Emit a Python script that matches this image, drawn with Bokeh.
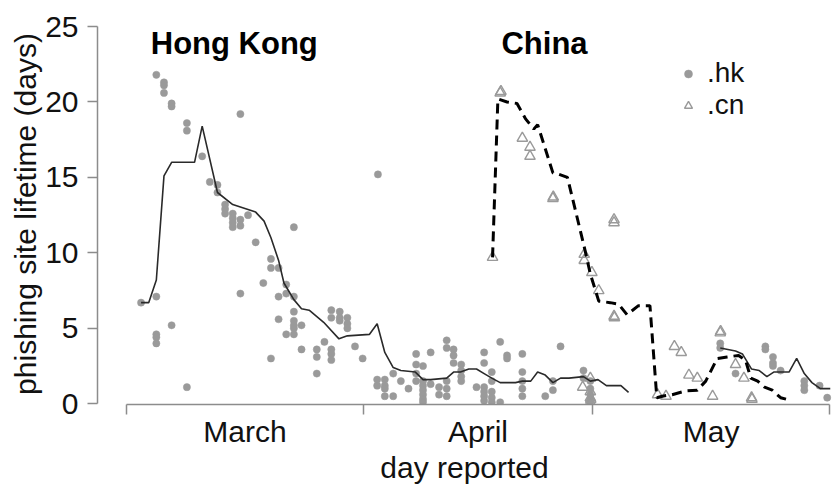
from bokeh.plotting import figure
from bokeh.models import Range1d, FixedTicker, Legend, LegendItem
from bokeh.core.properties import value
from bokeh.embed import file_html
from bokeh.resources import INLINE

FONT = "Liberation Sans"

# x = days since 1 March (1 March = 0, 1 April = 31, 1 May = 61, 1 June = 92)
month_names = ["March", "April", "May"]
month_mid = [15.5, 46.0, 76.5]
month_edges = [0, 31, 61, 92]
life_ticks = [0, 5, 10, 15, 20, 25]

hk_day = [3.9, 4.9, 4.9, 4.9, 5.9, 5.9, 7.9, 7.9, 14.9, 9.9, 10.9, 11.9, 11.9,
          12.9, 12.9, 12.9, 13.9, 13.9, 13.9, 13.9, 14.9, 14.9, 15.9, 21.9, 16.9,
          18.9, 18.9, 19.9, 17.9, 20.9, 20.9, 19.9, 21.9, 21.9, 19.9, 21.9, 21.9,
          21.9, 22.9, 20.9, 21.9, 18.9, 22.9, 24.9, 24.9, 24.9, 25.9, 26.8, 26.8,
          26.8, 26.8, 26.8, 27.9, 27.9, 27.9, 28.9, 28.9, 28.9, 29.9, 30.9, 1.9,
          3.9, 3.9, 3.9, 3.9, 5.9, 7.9, 14.9, 32.9, 32.8, 32.8, 33.8, 33.8, 33.8,
          33.8, 34.9, 34.9, 35.9, 36.9, 37.9, 37.9, 37.9, 37.9, 38.8, 38.8, 38.8,
          38.8, 38.8, 38.8, 38.8, 39.8, 39.8, 40.9, 40.9, 41.9, 41.9, 41.9, 41.9,
          41.9, 42.8, 42.8, 42.8, 43.8, 43.8, 43.8, 43.8, 45.8, 46.8, 46.8, 46.8,
          46.8, 46.8, 46.8, 47.8, 47.8, 47.8, 47.8, 47.8, 48.9, 48.9, 49.8, 49.8,
          51.8, 51.8, 51.8, 51.8, 51.8, 54.8, 55.8, 55.8, 56.8, 59.8, 59.8, 60.7,
          60.7, 60.7, 60.7, 60.7, 77.7, 77.7, 79.7, 83.6, 83.6, 84.6, 84.6, 84.6,
          85.6, 88.7, 88.7, 88.7, 90.7, 91.7]
hk_life = [21.8, 21.3, 21.1, 20.6, 19.9, 19.7, 18.6, 18.1, 19.2, 16.4, 14.7, 14.5, 14.0,
           13.2, 12.9, 12.6, 12.6, 12.3, 12.0, 11.7, 12.2, 11.8, 12.5, 11.7, 10.7,
           9.6, 9.0, 9.0, 8.0, 7.9, 7.3, 7.1, 7.1, 6.1, 5.6, 5.5, 5.2,
           5.0, 5.2, 4.6, 4.6, 3.0, 3.6, 3.6, 3.1, 2.0, 4.1, 6.2, 5.7,
           3.6, 3.3, 2.9, 6.1, 5.7, 5.5, 5.7, 5.3, 5.0, 3.8, 3.0, 6.7,
           7.1, 4.6, 4.4, 4.0, 5.2, 1.1, 7.3, 15.2, 1.6, 1.2, 1.6, 1.2, 1.0,
           0.5, 2.0, 0.5, 1.5, 1.0, 3.3, 2.6, 2.0, 1.5, 2.5, 1.5, 1.2,
           0.9, 0.6, 0.3, 0.1, 3.4, 1.3, 1.1, 0.6, 4.2, 3.7, 1.5, 1.0,
           0.5, 3.6, 3.2, 2.7, 2.6, 2.2, 1.8, 1.5, 1.1, 3.4, 2.7, 1.1,
           0.8, 0.5, 0.2, 2.1, 1.5, 0.8, 0.4, 0.1, 4.1, 0.1, 3.2, 3.0,
           3.3, 2.1, 1.5, 1.0, 0.5, 0.5, 1.5, 0.9, 3.8, 2.2, 1.7, 1.5,
           1.0, 0.6, 0.3, 0.1, 4.0, 3.7, 2.0, 3.8, 3.6, 3.1, 2.7, 2.5,
           2.2, 1.5, 1.2, 0.9, 1.2, 0.4]

nan = float("nan")
hk_avg_day = [1.9, 2.9, 3.9, 4.9, 5.9, 8.9, 9.9, 11.9, 13.9, 16.9, 18.0, 18.9, 19.9,
              20.6, 21.9, 22.9, 23.9, 25.8, 27.8, 28.9, 31.8, 32.8, 33.8, 34.9, 35.9,
              37.8, 38.8, 39.8, 41.9, 42.8, 43.7, 44.8, 45.8, 46.8, 47.8, 48.9, 50.9,
              51.8, 52.9, 53.8, 54.8, 55.8, 56.8, 57.9, 59.8, 60.7, 61.7, 62.8, 64.7,
              65.7, nan, 77.7, 79.7, 80.6, 81.8, 82.8, 83.8, 84.7, 86.7, 87.7, 88.7,
              89.7, 90.8, 92.1]
hk_avg_life = [6.7, 6.7, 8.2, 15.1, 16.0, 16.0, 18.4, 14.0, 13.2, 12.7, 12.1, 11.0, 9.5,
               8.0, 6.9, 6.3, 6.2, 5.4, 4.3, 4.5, 4.6, 5.3, 3.4, 2.4, 2.2,
               2.1, 1.6, 1.6, 1.7, 2.1, 2.1, 2.3, 2.3, 2.0, 1.7, 1.4, 1.4,
               1.5, 1.5, 2.1, 1.9, 1.4, 1.7, 1.7, 1.8, 1.5, 1.6, 1.2, 1.2,
               0.75, nan, 3.7, 3.5, 3.3, 2.3, 2.2, 1.8, 2.1, 2.1, 3.0, 2.0,
               1.4, 1.0, 1.0]

cn_day = [47.9, 48.9, 49.0, 51.8, 52.8, 52.8, 55.8, 55.85, 59.9, 59.9, 60.9, 61.8,
          63.8, 63.8, 63.8, 63.85, 59.7, 60.7, 60.7, 60.7, 60.7, 60.75, 69.5, 70.6,
          71.7, 72.6, 73.6, 74.7, 76.7, 77.7, 77.75, 79.7, 80.8, 81.8, 81.85]
cn_life = [9.7, 20.6, 20.7, 17.6, 17.0, 16.4, 13.6, 13.7, 9.9, 9.5, 8.7, 7.5,
           12.2, 12.0, 5.8, 5.7, 1.1, 1.7, 0.8, 0.4, 0.1, 0.3, 0.6, 0.5,
           3.8, 3.4, 1.9, 1.7, 0.5, 4.7, 4.8, 2.6, 1.7, 0.4, 0.3]

cn_avg_day = [47.9, 48.6, 49.8, 51.1, 52.2, 53.3, 53.8, 55.8, 56.6, 57.7, 59.9, 60.7,
              61.8, 63.3, 64.4, 65.5, 67.0, 68.5, 69.4, 70.1, 71.4, 73.2, 74.7, 75.8,
              77.3, 78.6, 80.1, 81.0, 81.7, 82.6, 83.5, 84.5, 85.6, 86.7]
cn_avg_life = [9.7, 20.2, 20.0, 19.9, 18.9, 18.2, 18.5, 15.3, 15.2, 15.0, 10.4, 8.6,
               6.8, 6.7, 6.6, 5.9, 6.5, 6.5, 0.4, 0.5, 0.6, 0.85, 0.9, 1.5,
               3.0, 3.1, 3.2, 2.9, 1.7, 1.5, 1.1, 0.9, 0.4, 0.25]

region_names = ["Hong Kong", "China"]
region_day = [14.1, 54.7]
region_life = [23.85, 23.85]

DOT = "#9a9a9a"
AXIS = "#8c8c8c"
TXT = "#111111"

p = figure(width=836, height=487, output_backend="svg", toolbar_location=None,
           x_range=Range1d(-3.8, 92.26), y_range=Range1d(-0.05, 25.2),
           min_border_left=97, min_border_right=5, min_border_top=23,
           min_border_bottom=83)
p.outline_line_color = None
p.xgrid.visible = False
p.ygrid.visible = False

r_hk = p.scatter(hk_day, hk_life, marker="circle", size=7.2, fill_color=DOT,
                 line_color=DOT, line_width=0.5)
r_cn = p.scatter(cn_day, cn_life, marker="triangle", size=10.5, fill_color=None,
                 line_color=DOT, line_width=1.4)
p.line(hk_avg_day, hk_avg_life, line_color="#2a2a2a", line_width=1.6)
p.line(cn_avg_day, cn_avg_life, line_color="black", line_width=3,
       line_dash="10 6")

p.text(x=region_day, y=region_life, text=region_names, text_font=value(FONT),
       text_font_size="31px", text_font_style="bold", text_align="center",
       text_baseline="alphabetic", text_color="black")

# x axis
xa = p.xaxis[0]
xa.ticker = FixedTicker(ticks=month_mid, minor_ticks=month_edges)
xa.major_label_overrides = {m: n for m, n in zip(month_mid, month_names)}
xa.bounds = (month_edges[0], month_edges[-1])
xa.major_tick_out = 0
xa.major_tick_in = 0
xa.minor_tick_out = 10
xa.minor_tick_in = 0
xa.minor_tick_line_color = AXIS
xa.minor_tick_line_width = 1.5
xa.axis_line_color = AXIS
xa.axis_line_width = 1.5
xa.major_label_text_font = FONT
xa.major_label_text_font_size = "30px"
xa.major_label_text_color = TXT
xa.major_label_standoff = 0
xa.axis_label = "day reported"
xa.axis_label_text_font = FONT
xa.axis_label_text_font_size = "30px"
xa.axis_label_text_font_style = "normal"
xa.axis_label_text_color = TXT
xa.axis_label_standoff = 0

# y axis
ya = p.yaxis[0]
ya.ticker = FixedTicker(ticks=life_ticks)
ya.bounds = (life_ticks[0], life_ticks[-1])
ya.major_tick_out = 10
ya.major_tick_in = 0
ya.minor_tick_line_color = None
ya.major_tick_line_color = AXIS
ya.major_tick_line_width = 1.5
ya.axis_line_color = AXIS
ya.axis_line_width = 1.5
ya.major_label_text_font = FONT
ya.major_label_text_font_size = "30px"
ya.major_label_text_color = TXT
ya.major_label_standoff = 9
ya.axis_label = "phishing site lifetime (days)"
ya.axis_label_text_font = FONT
ya.axis_label_text_font_size = "30px"
ya.axis_label_text_font_style = "normal"
ya.axis_label_text_color = TXT
ya.axis_label_standoff = 0

legend = Legend(items=[LegendItem(label=".hk", renderers=[r_hk]),
                       LegendItem(label=".cn", renderers=[r_cn])],
                location=(581, 283), background_fill_alpha=0,
                border_line_color=None, padding=0, margin=0, spacing=0,
                glyph_width=20, glyph_height=29, label_height=29,
                label_standoff=9, label_text_font=FONT,
                label_text_font_size="28px", label_text_color=TXT)
p.add_layout(legend)

open("out.html", "w").write(file_html(p, INLINE))
